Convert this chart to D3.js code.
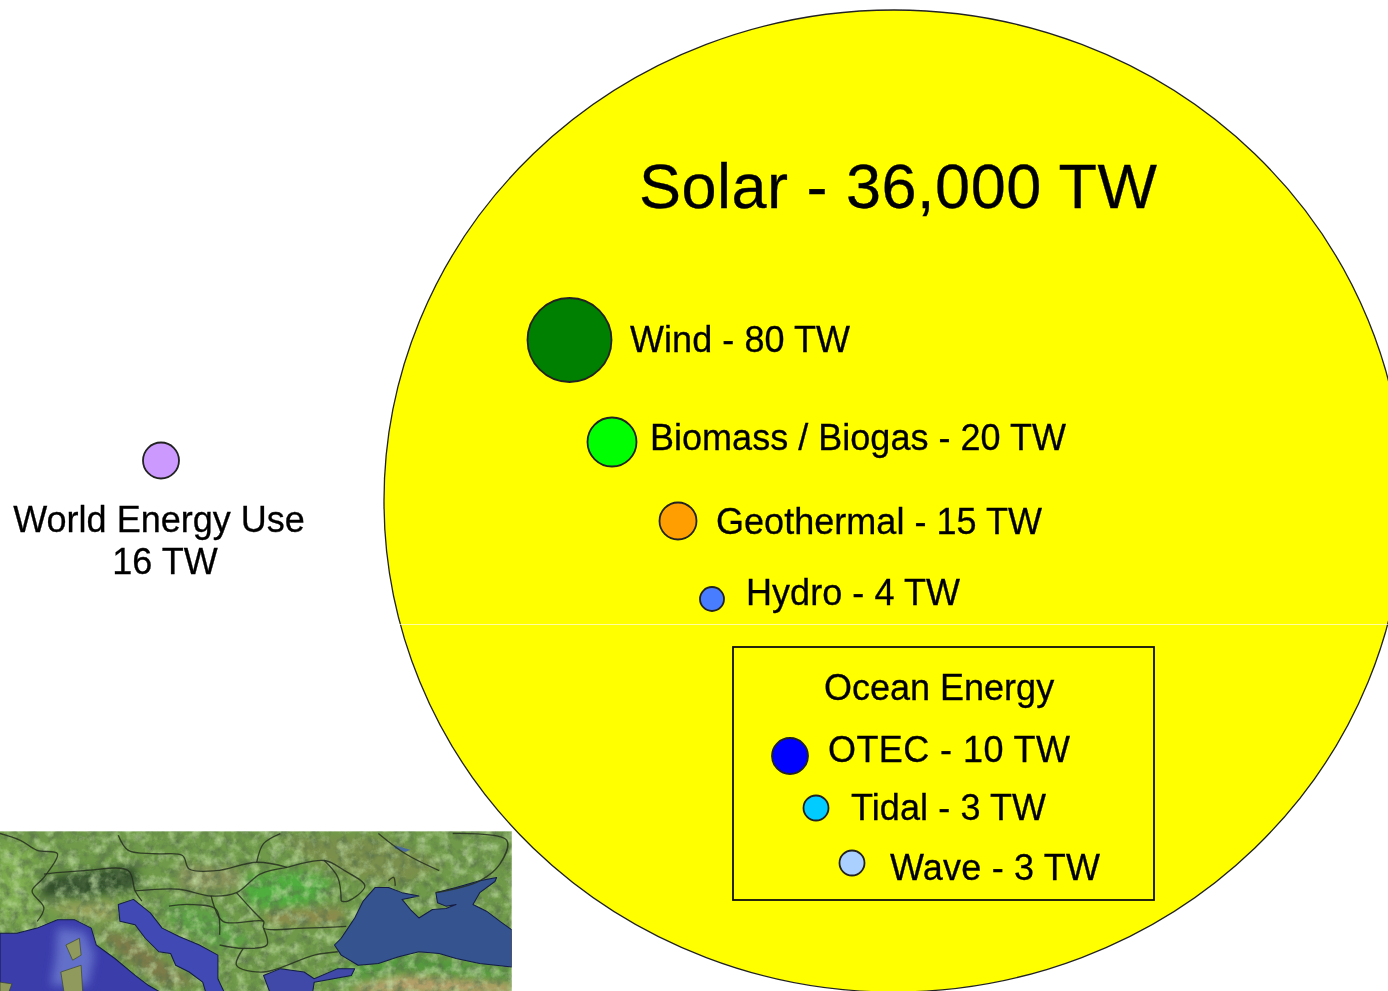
<!DOCTYPE html>
<html>
<head>
<meta charset="utf-8">
<script src="https://cdn.jsdelivr.net/npm/d3@7"></script>
<style>
  html, body { margin: 0; padding: 0; background: #fff; overflow: hidden; }
  svg { display: block; }
  text { font-family: "Liberation Sans", Arial, sans-serif; fill: #000; stroke: #000; stroke-width: 0.3; }
</style>
</head>
<body>
<div id="chart"></div>
<script>
// values in TW
const sources = ["Wind", "Biomass / Biogas", "Geothermal", "Hydro", "OTEC", "Tidal", "Wave"];
const sourceValues = [80, 20, 15, 4, 10, 3, 3];
const solarName = "Solar";
const solarValue = 36000;
const useLines = ["World Energy Use", "16 TW"];
const useValue = 16;
const oceanTitle = "Ocean Energy";

const width = 1388, height = 991;

const svg = d3.select("#chart").append("svg")
  .attr("width", width)
  .attr("height", height);

const defs = svg.append("defs");

// the original is an upscaled screenshot, so everything is a bit soft
defs.append("filter").attr("id", "soft")
  .append("feGaussianBlur").attr("stdDeviation", 0.55);
defs.append("filter").attr("id", "softer")
  .attr("x", "-30%").attr("y", "-30%").attr("width", "160%").attr("height", "160%")
  .append("feGaussianBlur").attr("stdDeviation", 14);
defs.append("filter").attr("id", "mapBlur")
  .append("feGaussianBlur").attr("stdDeviation", 2);

// radii in the picture are not strictly proportional, so piecewise scale
const radius = d3.scaleLinear()
  .domain([3, 4, 10, 15, 16, 20, 80])
  .range([12.5, 12, 18, 18.5, 18, 24.5, 42]);

const fill = d3.scaleOrdinal()
  .domain(sources)
  .range(["#008000", "#00ff00", "#ff9e00", "#4a7dff", "#0000ff", "#00ccff", "#aad0ff"]);

const cx = d3.scaleOrdinal().domain(sources).range([569.5, 612, 678, 712, 790, 816, 852]);
const cy = d3.scaleOrdinal().domain(sources).range([340, 442, 521, 599, 756, 808, 863]);
const labelX = d3.scaleOrdinal().domain(sources).range([630, 650, 716, 746, 828, 851, 890]);
const labelY = d3.scaleOrdinal().domain(sources).range([352, 450, 534, 604.5, 762, 820, 880]);
const labelW = d3.scaleOrdinal().domain(sources).range([220, 416, 326, 214, 242, 195, 210]);

const fmt = d3.format(",");
const label = (name, v) => `${name} - ${fmt(v)} TW`;

const seaBlack = [[1515,325],[1480,300],[1440,270],[1400,250],[1420,215],[1465,182],[1470,170],[1420,180],[1350,200],[1290,215],[1295,245],[1320,255],[1350,250],[1320,262],[1280,265],[1240,290],[1215,265],[1190,235],[1240,225],[1190,215],[1150,200],[1110,200],[1075,240],[1050,290],[1030,320],[1010,350],[990,370],[1010,400],[1060,430],[1120,425],[1180,405],[1240,390],[1300,395],[1350,410],[1420,425],[1515,435]];
const seaAdriatic = [[350,250],[395,235],[445,275],[480,320],[530,345],[590,370],[645,400],[645,470],[665,513],[610,513],[600,480],[560,450],[520,430],[505,395],[470,390],[430,350],[400,310],[355,300]];
const seaTyrrhenian = [[0,335],[50,335],[110,320],[170,295],[220,295],[270,320],[285,370],[340,410],[400,460],[440,490],[480,513],[0,513]];
const seaAegean = [[780,460],[830,440],[900,450],[930,470],[1000,440],[1050,440],[1040,460],[930,480],[925,513],[800,513]];
const islands = [
  [[195,370],[235,350],[240,400],[215,415]],
  [[180,450],[240,430],[245,513],[190,513]],
  [[0,480],[35,485],[25,513],[0,513]]
];
const lake = [[1165,75],[1215,88],[1200,95],[1170,85]];
const borders = [
  [[0,40],[60,60],[110,90],[170,100],[130,170],[95,210],[130,260],[110,300]],
  [[350,45],[380,90],[460,100],[540,105],[560,145],[640,150],[760,125],[850,140]],
  [[850,140],[960,120],[1020,150],[1080,195],[1030,240],[1010,240]],
  [[830,40],[780,70],[760,125]],
  [[400,210],[530,205],[625,225],[700,215],[770,160],[850,140]],
  [[130,160],[250,150],[380,150],[400,210],[420,240]],
  [[500,255],[560,250],[640,265],[650,340]],
  [[625,225],[660,300],[780,300],[780,320],[900,320],[1025,315]],
  [[700,215],[750,270],[780,300]],
  [[780,320],[790,370],[720,380],[650,370]],
  [[720,380],[700,430],[780,450],[930,400],[1000,390]],
  [[960,120],[1000,170],[1010,240]],
  [[1150,180],[1165,170],[1170,195]],
  [[1290,215],[1420,180],[1480,130],[1500,60],[1340,40]],
  [[1120,40],[1200,100],[1300,150]]
];
// greener and browner patches of the land
const patches = [
  { pts: [[720,170],[880,150],[980,180],[950,240],[800,270],[720,240]], color: "#4fae3c" },
  { pts: [[0,70],[100,100],[90,200],[100,300],[0,310]], color: "#7fae4f" },
  { pts: [[530,130],[700,140],[720,200],[600,215],[530,200]], color: "#88925a" },
  { pts: [[820,50],[1120,50],[1320,130],[1200,190],[1050,170],[900,110]], color: "#7a8f4c" },
  { pts: [[1300,50],[1515,50],[1515,170],[1400,170]], color: "#6f9a48" },
  { pts: [[780,270],[1020,260],[1010,310],[800,310]], color: "#8d8a4e" },
  { pts: [[120,170],[400,130],[420,200],[250,230],[120,230]], color: "#33502a" },
  { pts: [[130,250],[340,240],[340,300],[230,290]], color: "#97a05a" },
  { pts: [[280,320],[400,350],[500,430],[590,490],[480,490],[360,400]], color: "#7e7a48" },
  { pts: [[1050,490],[1200,460],[1515,480],[1515,513],[1050,513]], color: "#b9a06c" },
  { pts: [[960,450],[1200,395],[1515,445],[1515,470],[1200,440],[1000,480]], color: "#4f9a3a" },
  { pts: [[480,240],[640,270],[760,370],[640,380],[500,300]], color: "#5da244" }
];

defs.append("clipPath").attr("id", "mapClip")
  .append("rect").attr("x", 0).attr("y", 33).attr("width", 1515).attr("height", 480);

// speckle for the relief of the land, one dark layer and one light layer
const relief = defs.append("filter").attr("id", "relief")
  .attr("x", 0).attr("y", 0).attr("width", 1).attr("height", 1);
relief.append("feTurbulence").attr("type", "fractalNoise")
  .attr("baseFrequency", 0.035).attr("numOctaves", 4).attr("seed", 4);
relief.append("feColorMatrix").attr("type", "matrix")
  .attr("values", "0 0 0 0 0.1  0 0 0 0 0.17  0 0 0 0 0.07  1.8 0 0 0 -0.75");
const relief2 = defs.append("filter").attr("id", "relief2")
  .attr("x", 0).attr("y", 0).attr("width", 1).attr("height", 1);
relief2.append("feTurbulence").attr("type", "fractalNoise")
  .attr("baseFrequency", 0.03).attr("numOctaves", 4).attr("seed", 11);
relief2.append("feColorMatrix").attr("type", "matrix")
  .attr("values", "0 0 0 0 0.55  0 0 0 0 0.75  0 0 0 0 0.38  0 1.6 0 0 -0.72");

const line = d3.line().curve(d3.curveCatmullRom);
const poly = d3.line().curve(d3.curveLinearClosed);

const map = svg.append("g")
  .attr("transform", `translate(0,820) scale(${1 / 2.96})`)
  .attr("clip-path", "url(#mapClip)")
  .append("g").attr("filter", "url(#mapBlur)");

map.append("rect").attr("x", 0).attr("y", 33).attr("width", 1515).attr("height", 480).attr("fill", "#6f9a48");
map.selectAll("path.patch").data(patches).enter().append("path")
  .attr("d", d => poly(d.pts))
  .attr("fill", d => d.color)
  .attr("filter", "url(#softer)");
map.append("rect").attr("x", 0).attr("y", 33).attr("width", 1515).attr("height", 480)
  .attr("filter", "url(#relief)");
map.append("rect").attr("x", 0).attr("y", 33).attr("width", 1515).attr("height", 480)
  .attr("filter", "url(#relief2)");

const seas = map.append("g").attr("stroke", "#141d45").attr("stroke-width", 3).attr("stroke-linejoin", "round");
seas.append("path").attr("d", poly(seaTyrrhenian)).attr("fill", "#3a3cab");
seas.append("path").attr("d", poly(seaAdriatic)).attr("fill", "#4148b4");
seas.append("path").attr("d", poly(seaAegean)).attr("fill", "#3f48a8");
seas.append("path").attr("d", poly(seaBlack)).attr("fill", "#35528f");
seas.append("path").attr("d", poly(lake)).attr("fill", "#4a6a9c").attr("stroke", "none");

// lighter shallow water by the islands
map.append("path")
  .attr("d", poly([[170,320],[250,330],[280,400],[260,490],[150,490],[165,400]]))
  .attr("fill", "#7f92dd").attr("opacity", 0.6).attr("filter", "url(#softer)");
map.selectAll("path.island").data(islands).enter().append("path")
  .attr("d", d => poly(d)).attr("fill", "#8f9a5c").attr("stroke", "#39432a").attr("stroke-width", 2);

map.selectAll("path.border").data(borders).enter().append("path")
  .attr("d", d => line(d))
  .attr("fill", "none").attr("stroke", "#262f20").attr("stroke-width", 4).attr("opacity", 0.85);

// ---- the chart itself ----
const chart = svg.append("g").attr("filter", "url(#soft)");

// solar, radii (slightly wider than tall)
chart.append("ellipse")
  .attr("cx", 894).attr("cy", 501)
  .attr("rx", 510).attr("ry", 491)
  .attr("fill", "#ffff00")
  .attr("stroke", "#222").attr("stroke-width", 1.3);

// thin white seam across the circle
svg.append("line")
  .attr("x1", 398).attr("x2", width)
  .attr("y1", 624.5).attr("y2", 624.5)
  .attr("stroke", "#fff").attr("stroke-width", 0.8).attr("opacity", 0.8);

const chartTop = svg.append("g").attr("filter", "url(#soft)");

chartTop.append("text")
  .attr("x", 639).attr("y", 208)
  .attr("font-size", 63)
  .attr("textLength", 518)
  .text(label(solarName, solarValue));

const rows = sources.map((name, i) => ({ name, value: sourceValues[i] }));

chartTop.selectAll("circle.source").data(rows).enter().append("circle")
  .attr("class", "source")
  .attr("cx", d => cx(d.name))
  .attr("cy", d => cy(d.name))
  .attr("r", d => radius(d.value))
  .attr("fill", d => fill(d.name))
  .attr("stroke", "#222").attr("stroke-width", 1.8);

chartTop.selectAll("text.source").data(rows).enter().append("text")
  .attr("class", "source")
  .attr("x", d => labelX(d.name))
  .attr("y", d => labelY(d.name))
  .attr("font-size", 36)
  .attr("textLength", d => labelW(d.name))
  .text(d => label(d.name, d.value));

// ocean energy box
chartTop.append("rect")
  .attr("x", 733).attr("y", 647)
  .attr("width", 421).attr("height", 253)
  .attr("fill", "none").attr("stroke", "#111").attr("stroke-width", 1.8);

chartTop.append("text")
  .attr("x", 824).attr("y", 700)
  .attr("font-size", 36)
  .text(oceanTitle);

// world energy use on the left
chartTop.append("circle")
  .attr("cx", 161).attr("cy", 460.5)
  .attr("r", radius(useValue))
  .attr("fill", "#cc99ff")
  .attr("stroke", "#222").attr("stroke-width", 1.8);

chartTop.selectAll("text.use").data(useLines).enter().append("text")
  .attr("class", "use")
  .attr("x", (d, i) => i === 0 ? 159 : 165)
  .attr("y", (d, i) => i === 0 ? 532 : 574)
  .attr("text-anchor", "middle")
  .attr("font-size", 36)
  .text(d => d);
</script>
</body>
</html>
